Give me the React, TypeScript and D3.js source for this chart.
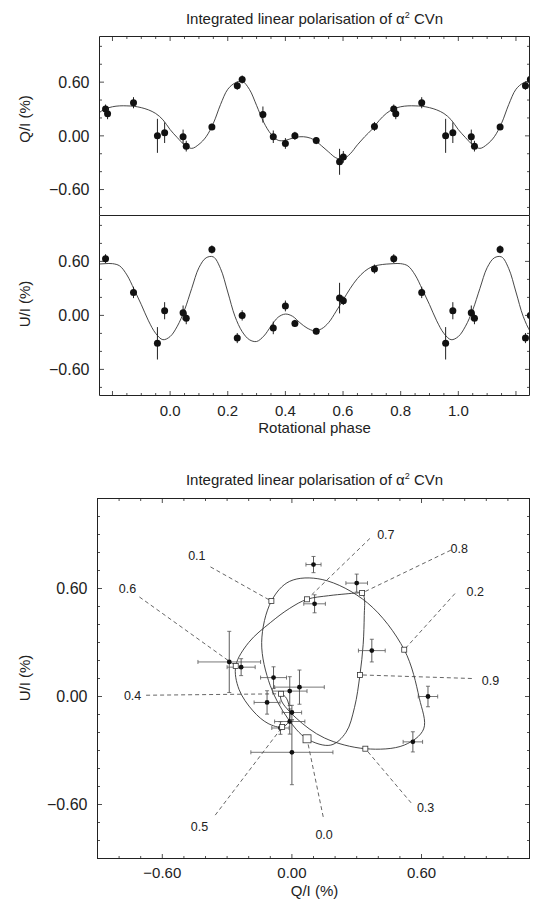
import React from 'react';
import * as d3 from 'd3';

// ---------- data ----------
// model (fitted) curve knots, one rotation period
const modelPhase = [0, 0.025, 0.05, 0.075, 0.1, 0.125, 0.15, 0.175, 0.2, 0.225, 0.25, 0.275, 0.3, 0.325, 0.35, 0.375, 0.4, 0.425, 0.45, 0.475, 0.5, 0.525, 0.55, 0.575, 0.6, 0.625, 0.65, 0.675, 0.7, 0.725, 0.75, 0.775, 0.8, 0.825, 0.85, 0.875, 0.9, 0.925, 0.95, 0.975];
const modelQ = [0.07, -0.02, -0.1, -0.14, -0.095, -0.01, 0.14, 0.35, 0.52, 0.59, 0.61, 0.52, 0.34, 0.15, 0.02, -0.05, -0.05, -0.025, -0.01, -0.015, -0.045, -0.11, -0.18, -0.245, -0.26, -0.2, -0.1, -0.01, 0.07, 0.17, 0.25, 0.3, 0.325, 0.335, 0.335, 0.33, 0.315, 0.29, 0.25, 0.18];
const modelU = [-0.235, -0.12, 0.06, 0.3, 0.53, 0.64, 0.65, 0.52, 0.26, -0.01, -0.18, -0.27, -0.29, -0.23, -0.12, -0.02, 0.015, -0.01, -0.08, -0.14, -0.17, -0.15, -0.08, 0.04, 0.17, 0.3, 0.41, 0.49, 0.54, 0.56, 0.57, 0.575, 0.575, 0.55, 0.45, 0.29, 0.12, -0.06, -0.2, -0.27];

// observations
const obsPhase = [0.045, 0.056, 0.145, 0.233, 0.25, 0.322, 0.358, 0.4, 0.433, 0.507, 0.588, 0.601, 0.709, 0.776, 0.783, 0.873, 0.956, 0.981];
const obsQ = [-0.01, -0.115, 0.1, 0.56, 0.63, 0.238, -0.01, -0.085, 0.0, -0.053, -0.29, -0.235, 0.105, 0.3, 0.246, 0.37, 0.0, 0.035];
const obsQErr = [0.08, 0.06, 0.035, 0.045, 0.045, 0.09, 0.07, 0.06, 0.045, 0.04, 0.145, 0.065, 0.05, 0.05, 0.06, 0.062, 0.19, 0.115];
const obsU: (number | null)[] = [0.03, -0.033, 0.733, -0.252, 0.0, null, -0.139, 0.105, -0.089, -0.175, 0.192, 0.163, 0.515, 0.63, null, 0.255, -0.31, 0.052];
const obsUErr = [0.08, 0.065, 0.045, 0.056, 0.057, 0, 0.07, 0.06, 0.04, 0.035, 0.17, 0.047, 0.05, 0.05, 0, 0.063, 0.18, 0.095];

// tick labels
const phaseTickLabels = [0, 0.2, 0.4, 0.6, 0.8, 1.0];
const polTickLabels = [-0.6, 0, 0.6];

// phase markers on the Q-U loop, with annotation anchors (in Q,U units)
const markerText = ['0.0', '0.1', '0.2', '0.3', '0.4', '0.5', '0.6', '0.7', '0.8', '0.9'];
const markerPhase = [0, 0.1, 0.2, 0.3, 0.4, 0.5, 0.6, 0.7, 0.8, 0.9];
const markerTextQ = [0.149, -0.44, 0.849, 0.619, -0.7375, -0.428, -0.761, 0.435, 0.775, 0.919];
const markerTextU = [-0.765, 0.781, 0.581, -0.619, 0.007, -0.724, 0.6, 0.898, 0.822, 0.091];
const markerLineQ = [0.145, -0.377, 0.755, 0.552, -0.675, -0.355, -0.706, 0.361, 0.736, 0.833];
const markerLineU = [-0.669, 0.72, 0.572, -0.591, 0.007, -0.659, 0.553, 0.878, 0.813, 0.1];

const titleText = 'Integrated linear polarisation of \u03b1';

// ---------- layout ----------
const W = 533;
const H = 900;
const FONT = "'Liberation Sans', Arial, Helvetica, sans-serif";
const INK = '#222';

const xP = d3.scaleLinear().domain([-0.245, 1.247]).range([99.5, 529.5]);
const yQ = d3.scaleLinear().domain([-0.89, 1.11]).range([215.5, 36.5]);
const yU = d3.scaleLinear().domain([-0.89, 1.11]).range([395.5, 215.5]);
const xQU = d3.scaleLinear().domain([-0.9, 1.1]).range([97.5, 529.5]);
const yQU = d3.scaleLinear().domain([-0.9, 1.1]).range([858.5, 498.5]);

const fmtPol = d3.format('.2f');
const fmtPhase = d3.format('.1f');
const near = (a: number, b: number) => Math.abs(a - b) < 1e-6;
const isMult = (v: number, step: number) => near(v / step, Math.round(v / step));

function Title({ y }: { y: number }) {
  return (
    <text x={314.5} y={y} textAnchor="middle" fontSize={15} fill={INK}>
      {titleText}
      <tspan dy={-6} fontSize={9}>2</tspan>
      <tspan dy={6}> CVn</tspan>
    </text>
  );
}

function FrameTicks({
  x0, x1, y0, y1, xs, ys, xMajor, yMajor, sx, sy, top = true, bottom = true,
}: any) {
  const minL = 2.5, majL = 4.5;
  const out: any[] = [];
  xs.forEach((v: number, i: number) => {
    const x = sx(v);
    const L = xMajor(v) ? majL : minL;
    if (bottom) out.push(<line key={'xb' + i} x1={x} x2={x} y1={y1} y2={y1 - L} />);
    if (top) out.push(<line key={'xt' + i} x1={x} x2={x} y1={y0} y2={y0 + L} />);
  });
  ys.forEach((v: number, i: number) => {
    const y = sy(v);
    const L = yMajor(v) ? majL : minL;
    out.push(<line key={'yl' + i} x1={x0} x2={x0 + L} y1={y} y2={y} />);
    out.push(<line key={'yr' + i} x1={x1} x2={x1 - L} y1={y} y2={y} />);
  });
  return <g stroke={INK} strokeWidth={0.8}>{out}</g>;
}

function extendPeriodic(ph: number[], vals: number[]) {
  const pts: [number, number][] = [];
  for (const s of [-1, 0, 1]) {
    ph.forEach((p, i) => {
      const q = p + s;
      if (q > -0.45 && q < 1.45) pts.push([q, vals[i]]);
    });
  }
  pts.sort((a, b) => a[0] - b[0]);
  return pts;
}

function TimePanel({ yS, model, vals, errs, clipId, top, bottom }: any) {
  const [x0, x1] = xP.range();
  const y0 = yS.range()[1];
  const y1 = yS.range()[0];
  const pts = extendPeriodic(modelPhase, model);
  const line = d3.line<[number, number]>()
    .x((d) => xP(d[0]))
    .y((d) => yS(d[1]))
    .curve(d3.curveCatmullRom.alpha(0.5));
  const marks: any[] = [];
  obsPhase.forEach((p, i) => {
    const v = vals[i];
    if (v === null || v === undefined) return;
    for (const s of [-1, 0, 1]) {
      const q = p + s;
      if (q < -0.27 || q > 1.27) continue;
      const cx = xP(q);
      marks.push(
        <g key={i + '_' + s}>
          <line x1={cx} x2={cx} y1={yS(v - errs[i])} y2={yS(v + errs[i])} stroke={INK} strokeWidth={1} />
          <circle cx={cx} cy={yS(v)} r={3.5} fill="#111" />
        </g>
      );
    }
  });
  const phaseTicks = d3.range(-4, 25).map((k) => k * 0.05).filter((v) => v > -0.245 && v < 1.247);
  const polTicks = d3.range(-4, 6).map((k) => k * 0.2);
  // frame: draw the shared edge only once
  const framePath = top
    ? `M${x0},${y1}V${y0}H${x1}V${y1}H${x0}`
    : `M${x0},${y0}V${y1}H${x1}V${y0}`;
  return (
    <g>
      <defs>
        <clipPath id={clipId}>
          <rect x={x0} y={y0} width={x1 - x0} height={y1 - y0} />
        </clipPath>
      </defs>
      <g clipPath={`url(#${clipId})`}>
        <path d={line(pts) || ''} fill="none" stroke="#333" strokeWidth={0.9} />
        {marks}
      </g>
      <path d={framePath} fill="none" stroke={INK} strokeWidth={1} />
      <FrameTicks x0={x0} x1={x1} y0={y0} y1={y1} xs={phaseTicks} ys={polTicks}
        xMajor={(v: number) => isMult(v, 0.2)} yMajor={(v: number) => isMult(v, 0.6)}
        sx={xP} sy={yS} top={top} bottom={bottom} />
      {polTickLabels.map((v) => (
        <text key={v} x={x0 - 10} y={yS(v)} dy="0.36em" textAnchor="end" fontSize={16} fill={INK}>
          {fmtPol(v)}
        </text>
      ))}
    </g>
  );
}

function QUPanel() {
  const [x0, x1] = xQU.range();
  const y0 = yQU.range()[1];
  const y1 = yQU.range()[0];
  const idx = modelPhase.map((_, i) => i);
  const loop = d3.line<number>()
    .x((i) => xQU(modelQ[i]))
    .y((i) => yQU(modelU[i]))
    .curve(d3.curveCatmullRomClosed.alpha(0.5));
  const ticks = d3.range(-8, 11).map((k) => k * 0.1);
  const cap = 2;
  return (
    <g>
      <defs>
        <clipPath id="clipQU">
          <rect x={x0} y={y0} width={x1 - x0} height={y1 - y0} />
        </clipPath>
      </defs>
      <g clipPath="url(#clipQU)">
        {markerPhase.map((p, i) => {
          const k = modelPhase.findIndex((m) => near(m, p));
          return (
            <line key={'dl' + i} x1={xQU(markerLineQ[i])} y1={yQU(markerLineU[i])}
              x2={xQU(modelQ[k])} y2={yQU(modelU[k])}
              stroke="#333" strokeWidth={0.75} strokeDasharray="4,3" />
          );
        })}
        <path d={loop(idx) || ''} fill="none" stroke="#333" strokeWidth={0.9} />
        {obsPhase.map((p, i) => {
          const u = obsU[i];
          if (u === null) return null;
          const q = obsQ[i];
          const cx = xQU(q), cy = yQU(u);
          const xa = xQU(q - obsQErr[i]), xb = xQU(q + obsQErr[i]);
          const ya = yQU(u - obsUErr[i]), yb = yQU(u + obsUErr[i]);
          return (
            <g key={'o' + i} stroke="#555" strokeWidth={0.8}>
              <line x1={xa} x2={xb} y1={cy} y2={cy} />
              <line x1={xa} x2={xa} y1={cy - cap} y2={cy + cap} />
              <line x1={xb} x2={xb} y1={cy - cap} y2={cy + cap} />
              <line x1={cx} x2={cx} y1={ya} y2={yb} stroke="#333" />
              <line x1={cx - cap} x2={cx + cap} y1={ya} y2={ya} />
              <line x1={cx - cap} x2={cx + cap} y1={yb} y2={yb} />
              <circle cx={cx} cy={cy} r={2.4} fill="#111" stroke="none" />
            </g>
          );
        })}
        {markerPhase.map((p, i) => {
          const k = modelPhase.findIndex((m) => near(m, p));
          const s = i === 0 ? 8 : 5;
          return (
            <rect key={'sq' + i} x={xQU(modelQ[k]) - s / 2} y={yQU(modelU[k]) - s / 2}
              width={s} height={s} fill="#fff" stroke="#333" strokeWidth={0.8} />
          );
        })}
      </g>
      {markerText.map((t, i) => (
        <text key={'mt' + i} x={xQU(markerTextQ[i])} y={yQU(markerTextU[i])} dy="0.36em"
          textAnchor="middle" fontSize={12.5} fill={INK}>{t}</text>
      ))}
      <rect x={x0} y={y0} width={x1 - x0} height={y1 - y0} fill="none" stroke={INK} strokeWidth={1} />
      <FrameTicks x0={x0} x1={x1} y0={y0} y1={y1} xs={ticks} ys={ticks}
        xMajor={(v: number) => isMult(v, 0.6)} yMajor={(v: number) => isMult(v, 0.6)}
        sx={xQU} sy={yQU} />
      {polTickLabels.map((v) => (
        <text key={'yl' + v} x={x0 - 10} y={yQU(v)} dy="0.36em" textAnchor="end" fontSize={16} fill={INK}>
          {fmtPol(v)}
        </text>
      ))}
      {polTickLabels.map((v) => (
        <text key={'xl' + v} x={xQU(v)} y={878} textAnchor="middle" fontSize={15} fill={INK}>
          {fmtPol(v)}
        </text>
      ))}
    </g>
  );
}

export default function App() {
  return (
    <svg width={W} height={H} viewBox={`0 0 ${W} ${H}`}
      style={{ position: 'absolute', left: 0, top: 0, fontFamily: FONT }}>
      <rect x={0} y={0} width={W} height={H} fill="#fff" />
      <Title y={24} />
      <TimePanel yS={yQ} model={modelQ} vals={obsQ} errs={obsQErr} clipId="clipQ" top={true} bottom={false} />
      <TimePanel yS={yU} model={modelU} vals={obsU} errs={obsUErr} clipId="clipU" top={false} bottom={true} />
      {phaseTickLabels.map((v) => (
        <text key={'pt' + v} x={xP(v)} y={416} textAnchor="middle" fontSize={15} fill={INK}>
          {fmtPhase(v)}
        </text>
      ))}
      <text x={314.5} y={433} textAnchor="middle" fontSize={15} fill={INK}>Rotational phase</text>
      <text transform="translate(30,119) rotate(-90)" textAnchor="middle" fontSize={15} fill={INK}>Q/I (%)</text>
      <text transform="translate(30,304) rotate(-90)" textAnchor="middle" fontSize={15} fill={INK}>U/I (%)</text>

      <Title y={485} />
      <QUPanel />
      <text transform="translate(30,678) rotate(-90)" textAnchor="middle" fontSize={15} fill={INK}>U/I (%)</text>
      <text x={314.5} y={896} textAnchor="middle" fontSize={15} fill={INK}>Q/I (%)</text>
    </svg>
  );
}
